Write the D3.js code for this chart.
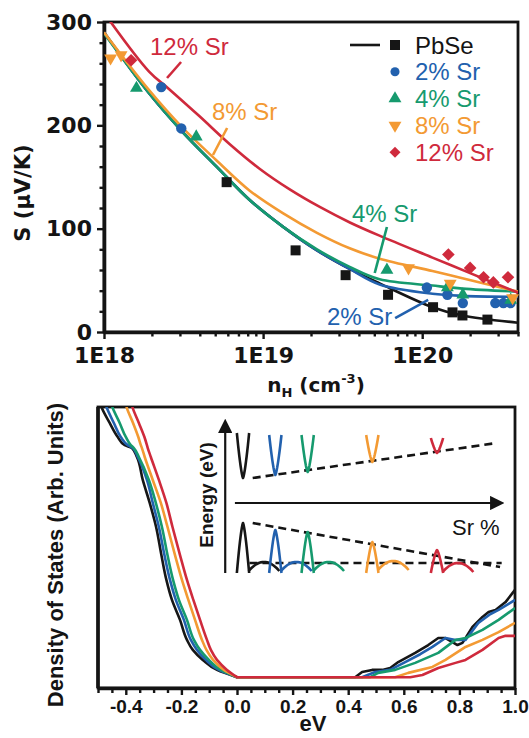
<!DOCTYPE html>
<html><head><meta charset="utf-8">
<script src="https://cdn.jsdelivr.net/npm/d3@7/dist/d3.min.js"></script>
<style>
body{margin:0;background:#fff;}
svg{display:block;}
</style></head><body>
<svg id="chart" width="529" height="738"></svg>
<script>
// ---------------- DATA ----------------
const seriesNames = ["PbSe", "2% Sr", "4% Sr", "8% Sr", "12% Sr"];
const seriesColors = ["#161616", "#2261ae", "#169a6e", "#f39a33", "#cf2a3c"];

// panel (a): Seebeck vs Hall carrier concentration
const yTicksS = [0, 100, 200, 300];
const xTicksN = [1e18, 1e19, 1e20];
const xTickLabelsN = ["1E18", "1E19", "1E20"];

const pbseN = [5.9e18, 1.6e19, 3.3e19, 6.1e19, 1.17e20, 1.55e20, 1.79e20, 2.57e20];
const pbseS = [145, 79, 55, 36, 24, 19, 16, 12];
const sr2N = [2.29e18, 3.06e18, 1.07e20, 1.44e20, 1.8e20, 2.88e20, 3.24e20, 3.59e20];
const sr2S = [237, 197, 43, 36, 28, 28, 28, 28];
const sr4N = [1.6e18, 3.8e18, 6.0e19, 1.44e20, 1.8e20, 3.6e20];
const sr4S = [236, 189, 60, 43, 36, 31];
const sr8N = [1.1e18, 1.28e18, 8.2e19, 1.5e20, 3.7e20];
const sr8S = [265, 268, 62, 47, 33];
const sr12N = [1.48e18, 1.46e20, 2.0e20, 2.43e20, 2.8e20, 3.46e20];
const sr12S = [263, 75, 62, 53, 48, 53];

// fitted curves
const fitN = [1e18, 1.92e18, 3.1e18, 5.1e18, 8.2e18, 1.33e19, 2.18e19, 3.5e19, 5.4e19, 1.16e20, 1.79e20, 4e20];
const fitPbSe = [290, 231, 194, 160, 128, 102, 79, 61, 47, 24, 16, 9];
const fitSr2 = [290, 231, 194, 160, 128, 102, 79, 61, 46, 37, 35, 34];
const fitSr4 = [289, 231, 194, 160, 128, 102, 80, 63, 51, 45, 42, 39];
const fitSr8 = [290, 234, 198, 166, 137, 115, 96, 81, 71, 59, 52, 39];
const fitSr12N = [1e18, 1.92e18, 2.57e18, 3.97e18, 6.15e18, 9.5e18, 1.47e19, 2.27e19, 3.51e19, 5.43e19, 1.16e20, 2.0e20, 4e20];
const fitSr12 = [309, 252, 235, 209, 182, 158, 138, 121, 106, 93, 72, 57, 38];

// panel (b): density of states
const xTicksE = [-0.4, -0.2, 0.0, 0.2, 0.4, 0.6, 0.8, 1.0];
const xTickLabelsE = ["-0.4", "-0.2", "0.0", "0.2", "0.4", "0.6", "0.8", "1.0"];

const vbDOS = [1.03, 0.996, 0.941, 0.889, 0.859, 0.848, 0.815, 0.730, 0.645, 0.556, 0.452, 0.360, 0.286, 0.212, 0.138, 0.101, 0.064, 0.027, 0];
const vbEvPbSe = [-0.497, -0.486, -0.458, -0.429, -0.404, -0.378, -0.360, -0.339, -0.314, -0.291, -0.272, -0.254, -0.234, -0.205, -0.180, -0.159, -0.123, -0.072, 0];
const vbEvSr2 = [-0.479, -0.468, -0.443, -0.418, -0.393, -0.375, -0.357, -0.324, -0.303, -0.281, -0.261, -0.241, -0.220, -0.191, -0.166, -0.144, -0.112, -0.065, 0];
const vbEvSr4 = [-0.458, -0.447, -0.422, -0.400, -0.382, -0.371, -0.353, -0.317, -0.292, -0.270, -0.250, -0.230, -0.209, -0.180, -0.155, -0.133, -0.101, -0.058, 0];
const vbEvSr8 = [-0.405, -0.396, -0.374, -0.355, -0.346, -0.342, -0.332, -0.303, -0.274, -0.250, -0.223, -0.198, -0.175, -0.151, -0.126, -0.110, -0.086, -0.047, 0];
const vbEvSr12 = [-0.385, -0.375, -0.353, -0.333, -0.324, -0.321, -0.310, -0.281, -0.254, -0.232, -0.205, -0.180, -0.157, -0.133, -0.108, -0.094, -0.072, -0.036, 0];

const cbEvPbSe = [0.425, 0.450, 0.486, 0.523, 0.551, 0.580, 0.641, 0.688, 0.724, 0.750, 0.775, 0.793, 0.811, 0.847, 0.883, 0.905, 0.930, 0.966, 1.0];
const cbDosPbSe = [0, 0.019, 0.027, 0.027, 0.034, 0.056, 0.090, 0.119, 0.145, 0.145, 0.130, 0.119, 0.127, 0.186, 0.223, 0.241, 0.249, 0.278, 0.323];
const cbEvSr2 = [0.450, 0.497, 0.551, 0.605, 0.659, 0.703, 0.750, 0.786, 0.822, 0.868, 0.912, 0.941, 0.977, 1.0];
const cbDosSr2 = [0, 0.019, 0.027, 0.056, 0.085, 0.112, 0.145, 0.138, 0.138, 0.201, 0.234, 0.249, 0.271, 0.286];
const cbEvSr4 = [0.479, 0.508, 0.569, 0.641, 0.724, 0.786, 0.822, 0.883, 0.941, 1.0];
const cbDosSr4 = [0, 0.016, 0.027, 0.053, 0.090, 0.138, 0.145, 0.175, 0.212, 0.256];
const cbEvSr8 = [0.569, 0.616, 0.703, 0.750, 0.822, 0.883, 0.941, 1.0];
const cbDosSr8 = [0, 0.016, 0.038, 0.064, 0.112, 0.138, 0.167, 0.201];
const cbEvSr12 = [0.623, 0.667, 0.724, 0.786, 0.822, 0.883, 0.941, 0.966, 1.0];
const cbDosSr12 = [0, 0.008, 0.034, 0.053, 0.064, 0.101, 0.145, 0.153, 0.153];

// inset: schematic band edges vs Sr %
const insetSr = [0, 2, 4, 8, 12];
const insetCbMin = [8.5, 8.8, 9.1, 10.1, 11.0];
const insetCbTop = [13.0, 12.8, 12.8, 12.8, 12.5];
const insetVbMax = [4.0, 3.3, 3.1, 2.1, 1.3];
const insetHeavyTop = [0.1, 0.1, 0.1, 0.2, 0.0];

// ---------------- DRAW ----------------
const svg = d3.select("#chart");
const INK = "#141414";
const SANS = "'Liberation Sans', Arial, sans-serif";
const DJV = "'DejaVu Sans', sans-serif";

// ===== panel (a) =====
const A = {l: 104, r: 518, t: 22, b: 332};
const x1 = d3.scaleLog().domain([1e18, 4e20]).range([A.l, A.r]);
const y1 = d3.scaleLinear().domain([0, 300]).range([A.b, A.t]);

const defs = svg.append("defs");
defs.append("clipPath").attr("id", "clipA")
  .append("rect").attr("x", A.l).attr("y", A.t).attr("width", A.r - A.l).attr("height", A.b - A.t);
defs.append("clipPath").attr("id", "clipB")
  .append("rect").attr("x", 98).attr("y", 407).attr("width", 417).attr("height", 281);

// frame
svg.append("rect").attr("x", A.l).attr("y", A.t).attr("width", A.r - A.l).attr("height", A.b - A.t)
  .attr("fill", "none").attr("stroke", INK).attr("stroke-width", 2.8);

function styleAxis(g, w) {
  g.select(".domain").attr("stroke", INK).attr("stroke-width", w);
  g.selectAll(".tick line").attr("stroke", INK).attr("stroke-width", 2.4);
}

// minor y ticks
const yMinor = d3.range(0, 301, 20).filter(v => v % 100 !== 0);
const gyMin = svg.append("g").attr("transform", `translate(${A.l},0)`)
  .call(d3.axisLeft(y1).tickValues(yMinor).tickSize(4.5).tickFormat(""));
gyMin.select(".domain").remove();
gyMin.selectAll(".tick line").attr("stroke", INK).attr("stroke-width", 2.4);

const gy = svg.append("g").attr("transform", `translate(${A.l},0)`)
  .call(d3.axisLeft(y1).tickValues(yTicksS).tickSize(7).tickPadding(5).tickSizeOuter(0));
styleAxis(gy, 3.6);
gy.selectAll("text").attr("font-family", DJV).attr("font-weight", "bold").attr("font-size", 22).attr("fill", INK);

// minor x ticks (log)
const xMinor = [];
xTicksN.forEach(d => { for (let m = 2; m <= 9; m++) if (d * m <= 4e20) xMinor.push(d * m); });
const gxMin = svg.append("g").attr("transform", `translate(0,${A.b})`)
  .call(d3.axisBottom(x1).tickValues(xMinor).tickSize(4.5).tickFormat(""));
gxMin.select(".domain").remove();
gxMin.selectAll(".tick line").attr("stroke", INK).attr("stroke-width", 2.4);

const gx = svg.append("g").attr("transform", `translate(0,${A.b})`)
  .call(d3.axisBottom(x1).tickValues(xTicksN).tickSize(7).tickPadding(8).tickSizeOuter(0)
    .tickFormat((d, i) => xTickLabelsN[i]));
styleAxis(gx, 3.6);
gx.selectAll("text").attr("font-family", DJV).attr("font-weight", "bold").attr("font-size", 22).attr("fill", INK);

// axis titles
svg.append("text").attr("transform", "translate(30,193) rotate(-90)")
  .attr("text-anchor", "middle").attr("font-family", DJV).attr("font-weight", "bold")
  .attr("font-size", 21).attr("fill", INK).text("S (\u03bcV/K)");

const xt = svg.append("text").attr("x", 316).attr("y", 392).attr("text-anchor", "middle")
  .attr("font-family", DJV).attr("font-weight", "bold").attr("font-size", 20).attr("fill", INK);
xt.append("tspan").text("n");
xt.append("tspan").attr("dy", 5).attr("font-size", 13).text("H");
xt.append("tspan").attr("dy", -5).text(" (cm");
xt.append("tspan").attr("dy", -9).attr("font-size", 13).text("-3");
xt.append("tspan").attr("dy", 9).text(")");

// fitted curves
const fitLine = d3.line().x(d => x1(d[0])).y(d => y1(d[1])).curve(d3.curveCatmullRom.alpha(0.5));
const fits = [
  fitN.map((n, i) => [n, fitPbSe[i]]),
  fitN.map((n, i) => [n, fitSr2[i]]),
  fitN.map((n, i) => [n, fitSr4[i]]),
  fitN.map((n, i) => [n, fitSr8[i]]),
  fitSr12N.map((n, i) => [n, fitSr12[i]])
];
const gFit = svg.append("g").attr("clip-path", "url(#clipA)");
fits.forEach((f, i) => {
  gFit.append("path").attr("d", fitLine(f)).attr("fill", "none")
    .attr("stroke", seriesColors[i]).attr("stroke-width", 2.6);
});

// markers
const symGen = [
  {type: d3.symbolSquare, size: 100, rot: 0},
  {type: d3.symbolCircle, size: 85, rot: 0},
  {type: d3.symbolTriangle, size: 72, rot: 0},
  {type: d3.symbolTriangle, size: 72, rot: 180},
  {type: d3.symbolSquare, size: 80, rot: 45}
];
const ptN = [pbseN, sr2N, sr4N, sr8N, sr12N];
const ptS = [pbseS, sr2S, sr4S, sr8S, sr12S];
const gPts = svg.append("g");
ptN.forEach((arr, si) => {
  const data = arr.map((n, i) => [n, ptS[si][i]]);
  const s = symGen[si];
  gPts.selectAll(null).data(data).enter().append("path")
    .attr("d", d3.symbol().type(s.type).size(s.size))
    .attr("transform", d => `translate(${x1(d[0])},${y1(d[1])}) rotate(${s.rot})`)
    .attr("fill", seriesColors[si]);
});

// curve labels with pointer lines (positions in data units)
const labels = [
  {t: "12% Sr", c: 4, at: [1.946e18, 268], p: [[2.49e18, 245.8], [3.05e18, 261.3]]},
  {t: "8% Sr", c: 3, at: [4.77e18, 205.2], p: [[5.94e18, 197.4], [4.84e18, 171.3]]},
  {t: "4% Sr", c: 2, at: [3.62e19, 106.5], p: [[6.0e19, 101.6], [5.03e19, 57.1]]},
  {t: "2% Sr", c: 1, at: [2.52e19, 6.8], p: [[6.76e19, 13.5], [1.09e20, 31]]}
];
labels.forEach(l => {
  svg.append("text").attr("x", x1(l.at[0])).attr("y", y1(l.at[1]))
    .attr("font-family", SANS).attr("font-size", 24).attr("fill", seriesColors[l.c]).text(l.t);
  svg.append("line").attr("x1", x1(l.p[0][0])).attr("y1", y1(l.p[0][1]))
    .attr("x2", x1(l.p[1][0])).attr("y2", y1(l.p[1][1]))
    .attr("stroke", seriesColors[l.c]).attr("stroke-width", 2.6);
});

// legend
const lg = svg.append("g").attr("transform", "translate(395,45)");
lg.append("line").attr("x1", -45).attr("x2", -15).attr("y1", 0).attr("y2", 0)
  .attr("stroke", seriesColors[0]).attr("stroke-width", 2.6);
const legSize = [100, 65, 72, 72, 60];
seriesNames.forEach((nm, i) => {
  const yy = i * 26.8;
  const s = symGen[i];
  lg.append("path").attr("d", d3.symbol().type(s.type).size(legSize[i]))
    .attr("transform", `translate(0,${yy}) rotate(${s.rot})`).attr("fill", seriesColors[i]);
  lg.append("text").attr("x", 20).attr("y", yy + 8.5).attr("font-family", SANS)
    .attr("font-size", 24).attr("fill", i === 0 ? INK : seriesColors[i]).text(nm);
});

// ===== panel (b) =====
const B = {l: 98, r: 515, t: 407, b: 688};
const x2 = d3.scaleLinear().domain([-0.5, 1.0]).range([B.l, B.r]);
const y2 = d3.scaleLinear().domain([-0.04, 1.0]).range([B.b, B.t]);

svg.append("rect").attr("x", B.l).attr("y", B.t).attr("width", B.r - B.l).attr("height", B.b - B.t)
  .attr("fill", "none").attr("stroke", INK).attr("stroke-width", 2.8);
svg.append("line").attr("x1", B.l).attr("x2", B.l).attr("y1", B.t).attr("y2", B.b)
  .attr("stroke", INK).attr("stroke-width", 3.6);

const eMinor = d3.range(-10, 21).map(k => k * 0.05).filter(v => !xTicksE.some(t => Math.abs(t - v) < 1e-6));
const gbMin = svg.append("g").attr("transform", `translate(0,${B.b})`)
  .call(d3.axisBottom(x2).tickValues(eMinor).tickSize(5).tickFormat(""));
gbMin.select(".domain").remove();
gbMin.selectAll(".tick line").attr("stroke", INK).attr("stroke-width", 2.4);
const gb = svg.append("g").attr("transform", `translate(0,${B.b})`)
  .call(d3.axisBottom(x2).tickValues(xTicksE).tickSize(7).tickPadding(5).tickSizeOuter(0)
    .tickFormat((d, i) => xTickLabelsE[i]));
styleAxis(gb, 3.6);
gb.selectAll("text").attr("font-family", SANS).attr("font-weight", "bold").attr("font-size", 19).attr("fill", INK);

svg.append("text").attr("x", 313).attr("y", 731).attr("text-anchor", "middle")
  .attr("font-family", SANS).attr("font-weight", "bold").attr("font-size", 22).attr("fill", INK).text("eV");
svg.append("text").attr("transform", "translate(63,555) rotate(-90)").attr("text-anchor", "middle")
  .attr("font-family", SANS).attr("font-weight", "bold").attr("font-size", 22).attr("fill", INK)
  .text("Density of States (Arb. Units)");

// DOS curves
const vbEv = [vbEvPbSe, vbEvSr2, vbEvSr4, vbEvSr8, vbEvSr12];
const cbEv = [cbEvPbSe, cbEvSr2, cbEvSr4, cbEvSr8, cbEvSr12];
const cbDos = [cbDosPbSe, cbDosSr2, cbDosSr4, cbDosSr8, cbDosSr12];
const dosLine = d3.line().x(d => x2(d[0])).y(d => y2(d[1])).curve(d3.curveLinear);
const vbLine = d3.line().x(d => x2(d[0])).y(d => y2(d[1])).curve(d3.curveMonotoneY);
const gDos = svg.append("g").attr("clip-path", "url(#clipB)");
[0, 1, 2, 3, 4].forEach(i => {
  const vb = vbEv[i].map((e, k) => [e, vbDOS[k]]);
  const flatAndCb = [[0, 0]].concat(cbEv[i].map((e, k) => [e, cbDos[i][k]]));
  gDos.append("path").attr("d", vbLine(vb) + dosLine(flatAndCb).replace(/^M/, "L"))
    .attr("fill", "none").attr("stroke", seriesColors[i]).attr("stroke-width", 2.6)
    .attr("stroke-linejoin", "round");
});

// ===== inset =====
const xi = d3.scaleLinear().domain([0, 12]).range([243, 437]);
const yi = d3.scaleLinear().domain([0, 10]).range([563, 463]);
const gi = svg.append("g");
defs.append("marker").attr("id", "arr").attr("viewBox", "0 0 10 10").attr("refX", 7).attr("refY", 5)
  .attr("markerWidth", 6.5).attr("markerHeight", 6.5).attr("orient", "auto-start-reverse")
  .append("path").attr("d", "M0,0 L10,5 L0,10 z").attr("fill", INK);

gi.append("line").attr("x1", xi(-1.1)).attr("x2", xi(-1.1)).attr("y1", yi(-1.0)).attr("y2", yi(14.0))
  .attr("stroke", INK).attr("stroke-width", 2.2).attr("marker-end", "url(#arr)");
gi.append("line").attr("x1", xi(-0.5)).attr("x2", xi(15.9)).attr("y1", yi(6)).attr("y2", yi(6))
  .attr("stroke", INK).attr("stroke-width", 2.2).attr("marker-end", "url(#arr)");

gi.append("text").attr("transform", `translate(${xi(-1.1) - 12},495) rotate(-90)`)
  .attr("text-anchor", "middle").attr("font-family", SANS).attr("font-weight", "bold")
  .attr("font-size", 19).attr("fill", INK).text("Energy (eV)");
gi.append("text").attr("x", 452).attr("y", 535).attr("font-family", SANS)
  .attr("font-size", 22).attr("fill", INK).text("Sr %");

const dash = (a, b) => gi.append("line").attr("x1", xi(a[0])).attr("y1", yi(a[1]))
  .attr("x2", xi(b[0])).attr("y2", yi(b[1])).attr("stroke", INK).attr("stroke-width", 2.6)
  .attr("stroke-dasharray", "8,5");
dash([0.6, 8.5], [15.7, 12.0]);
dash([0.6, 4.0], [15.9, -0.4]);
dash([0.4, 0.0], [16.0, 0.0]);

const bandLine = d3.line().x(d => xi(d[0])).y(d => yi(d[1]));
insetSr.forEach((sr, i) => {
  const w = 0.38;
  const cb = d3.range(-10, 11).map(k => {
    const t = k / 10;
    return [sr + t * w, insetCbMin[i] + (insetCbTop[i] - insetCbMin[i]) * Math.pow(Math.abs(t), 1.4)];
  });
  const vb = d3.range(-10, 11).map(k => {
    const t = k / 10;
    return [sr + t * w, insetVbMax[i] - (insetVbMax[i] + 1.0) * Math.pow(Math.abs(t), 1.4)];
  });
  const hc = sr + 1.3, hw = 0.95;
  const hv = d3.range(-10, 11).map(k => {
    const t = k / 10;
    return [hc + t * hw, insetHeavyTop[i] - 0.9 * t * t];
  });
  [cb, vb, hv].forEach(pts => gi.append("path").attr("d", bandLine(pts)).attr("fill", "none")
    .attr("stroke", seriesColors[i]).attr("stroke-width", 2.6).attr("stroke-linejoin", "round"));
});
</script>
</body></html>
